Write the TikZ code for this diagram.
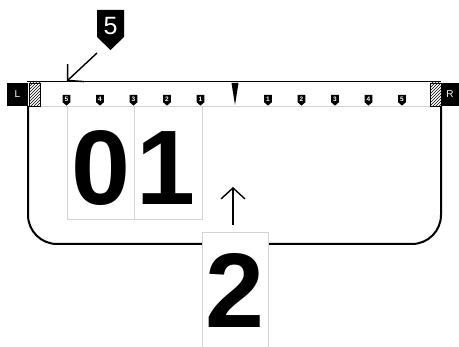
\documentclass[tikz,border=0pt]{standalone}
\usepackage{fontspec}
\setmainfont{Liberation Sans}
\setsansfont{Liberation Sans}
\usetikzlibrary{patterns,arrows.meta}
\definecolor{lgrey}{HTML}{D4D4D4}
\tikzset{
  mktext/.style={text=white, font=\fontsize{6.5}{6.5}\selectfont\bfseries, inner sep=0pt},
  digbox/.style={draw=lgrey, line width=1pt, fill=white, inner sep=0pt},
  bigdig/.style={font=\fontsize{106}{106}\selectfont\bfseries, inner sep=0pt},
  arr/.style={line width=1.4pt, -{Straight Barb[length=11pt,width=24pt,line width=1.4pt]}},
  sidebox/.style={fill=black, text=white, font=\fontsize{10}{10}\selectfont, inner sep=0pt},
  hatch/.style={pattern=north east lines, draw=black, line width=0.8pt},
}
\newcommand\mymarker[3]{%
  \fill (#1-3.8,95) -- (#1+3.8,95) -- (#1+3.8,102.3) -- (#1,105.6) -- (#1-3.8,102.3) -- cycle;
  \node[mktext] (#2) at (#1,99) {#3};}
\begin{document}
\begin{tikzpicture}[x=1pt,y=-1pt]
\useasboundingbox (0,0) rectangle (459,347);
% U shape
\draw[line width=2pt, rounded corners=29] (28,106) -- (28,244) -- (441,244) -- (441,106);
% bar
\draw[line width=1.2pt] (27,81.5) -- (441,81.5);
\draw[lgrey, line width=1pt] (40,106.6) -- (430,106.6);
% side boxes
\node[sidebox, minimum width=21pt, minimum height=23pt] (L) at (17.5,94.5) {L};
\node[sidebox, minimum width=17pt, minimum height=23pt] (R) at (450,94.5) {R};
\draw[hatch] (29,83) rectangle (40,106);
\draw[hatch] (430,83) rectangle (441,106);
% digit boxes
\node[digbox, minimum width=67pt, minimum height=113pt] (b0) at (100.5,163.5) {};
\node[digbox, minimum width=68pt, minimum height=113pt] (b1) at (168,163.5) {};
\node[bigdig, anchor=base] (d0) at (100.5,205) {0};
\node[bigdig, anchor=base] (d1) at (166,205) {1};
\node[digbox, minimum width=66pt, minimum height=124pt] (b2) at (235,295) {};
\node[bigdig, anchor=base] (d2) at (235,328) {2};
% markers
\mymarker{66.5}{l5}{5}
\mymarker{100}{l4}{4}
\mymarker{133.5}{l3}{3}
\mymarker{167}{l2}{2}
\mymarker{200.5}{l1}{1}
\mymarker{268}{r1}{1}
\mymarker{301.5}{r2}{2}
\mymarker{335}{r3}{3}
\mymarker{368.5}{r4}{4}
\mymarker{402}{r5}{5}
\fill (231.5,83) -- (238.5,83) -- (235,105) -- cycle;
% top badge
\fill (97,10) -- (124,10) -- (124,37) -- (110.5,50) -- (97,37) -- cycle;
\node[text=white, font=\fontsize{25}{25}\selectfont, inner sep=0pt] (b5) at (110.5,26) {5};
\coordinate (a5s) at (97,53);
\coordinate (a5e) at (67,81);
\draw[arr] (a5s) -- (a5e);
\coordinate (a2s) at (233,225);
\coordinate (a2e) at (233,187);
\draw[arr] (a2s) -- (a2e);
\end{tikzpicture}
\end{document}
